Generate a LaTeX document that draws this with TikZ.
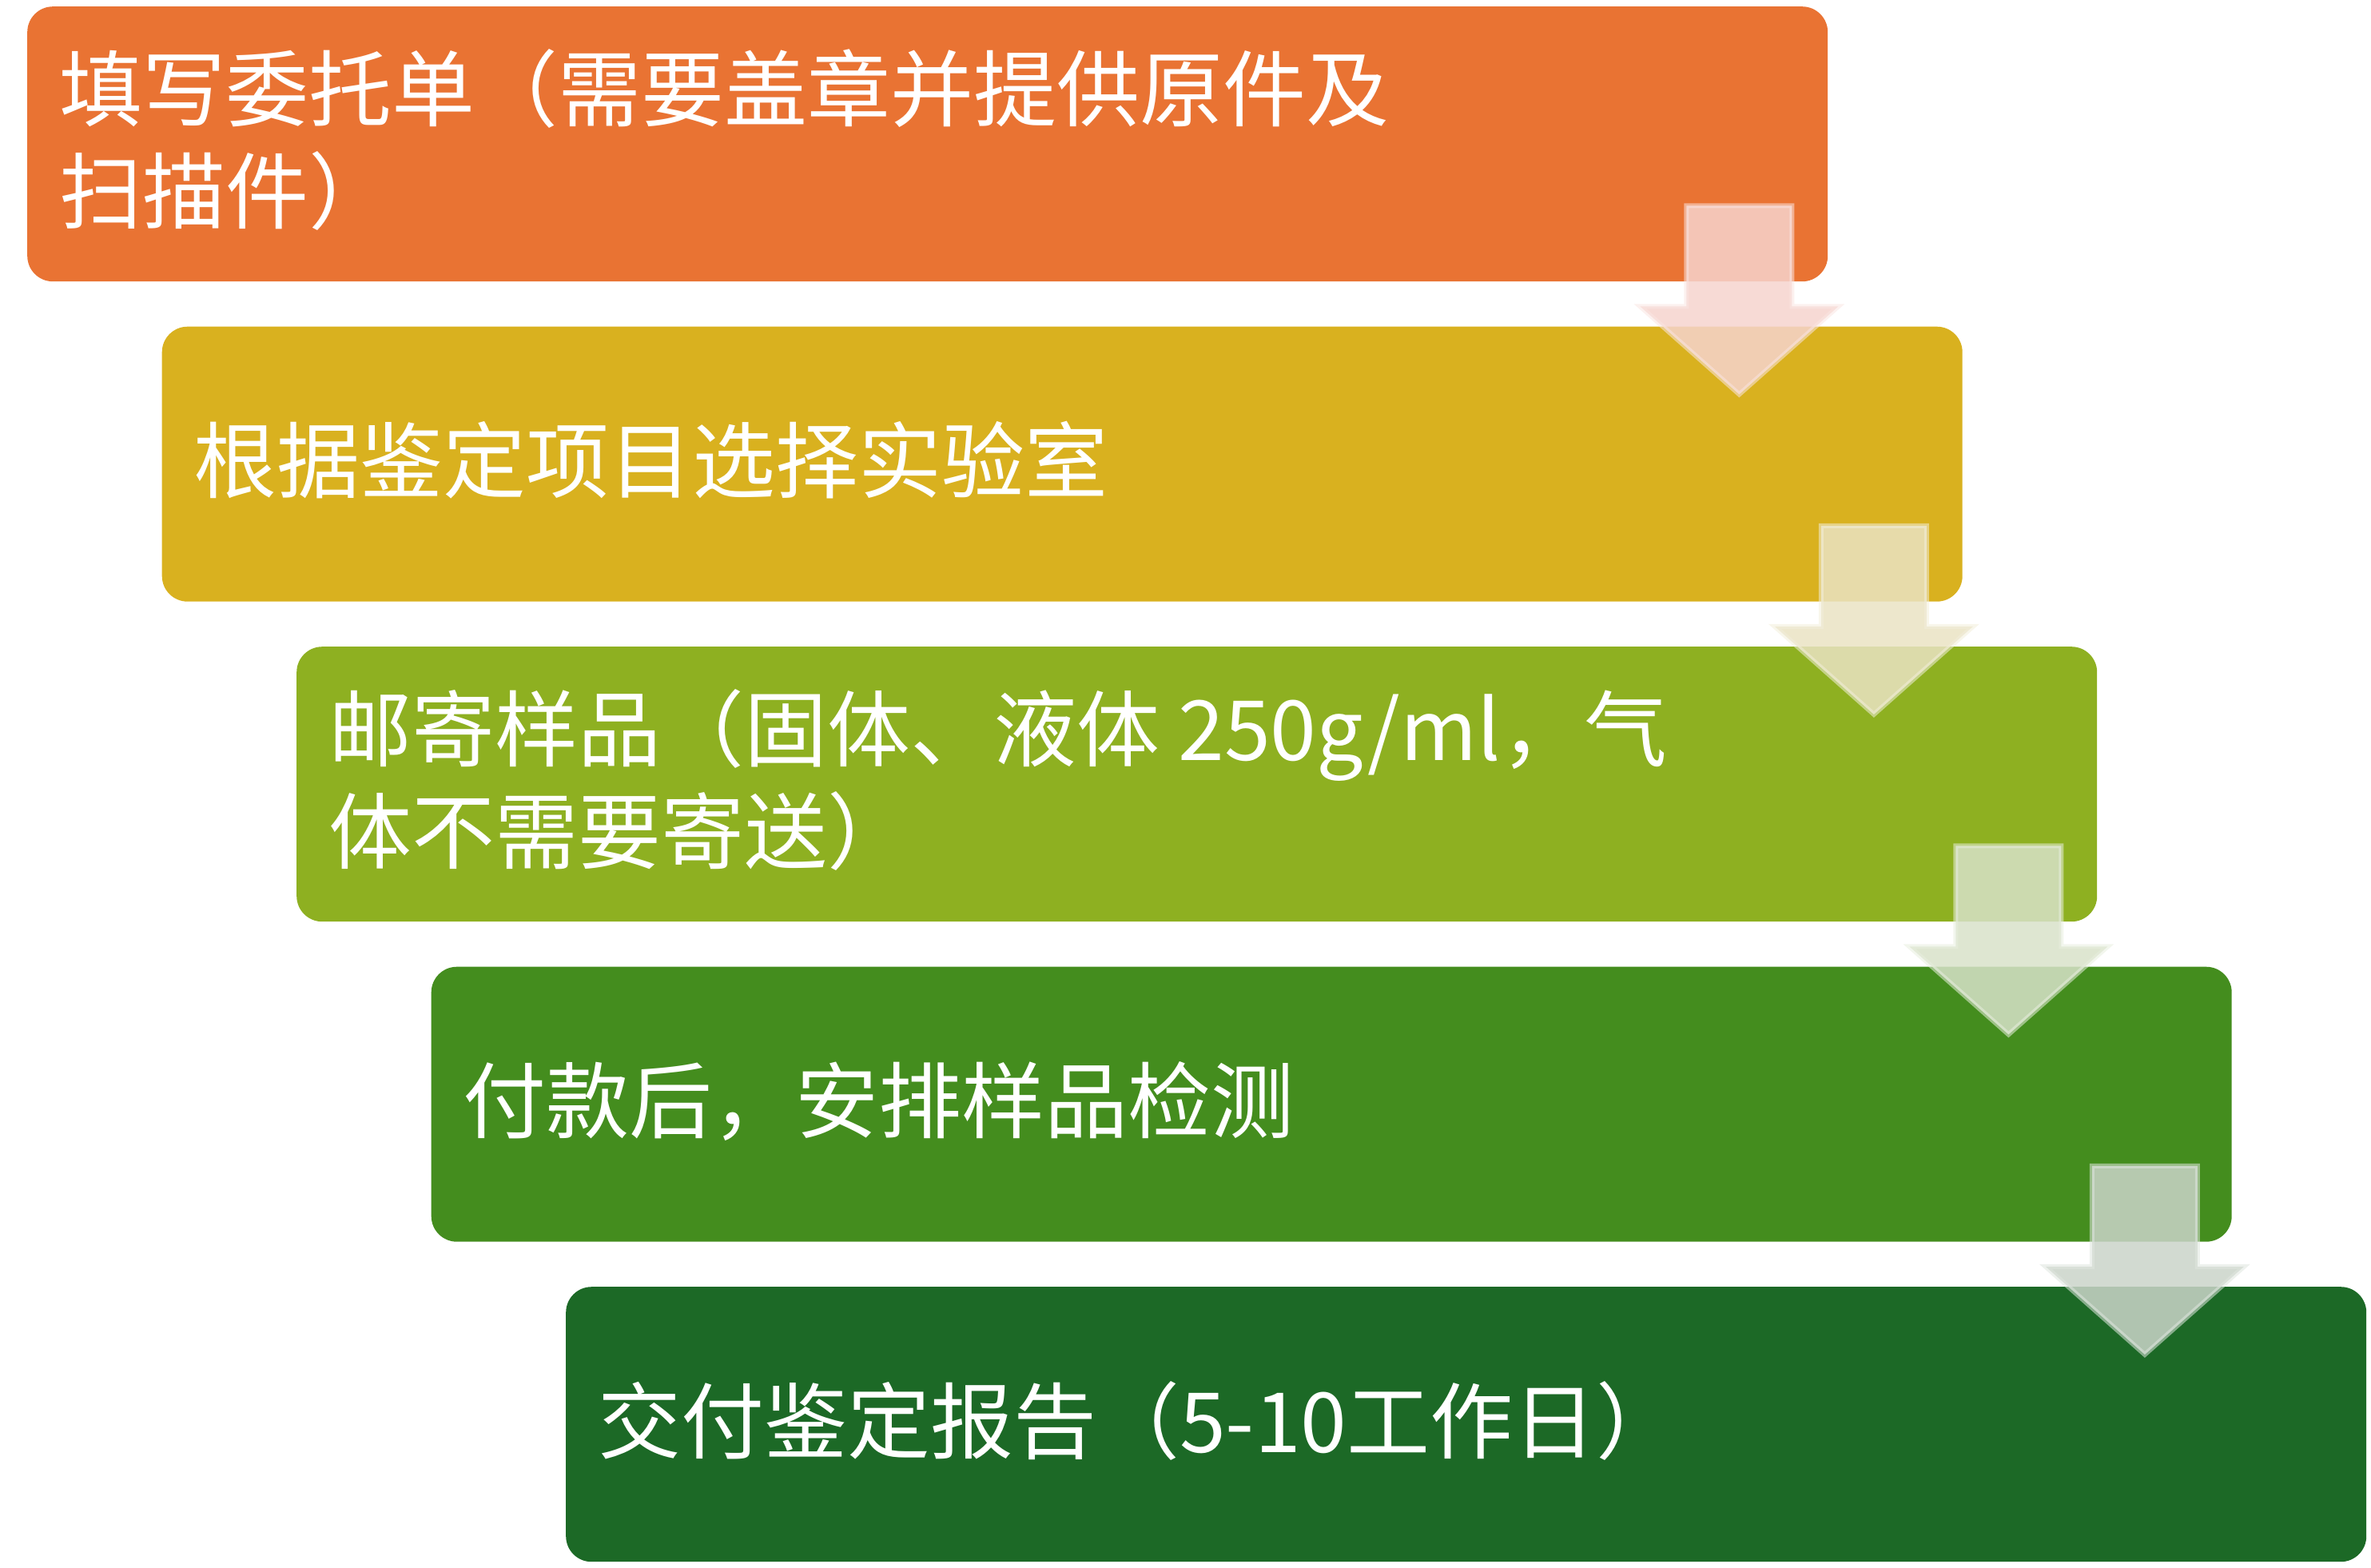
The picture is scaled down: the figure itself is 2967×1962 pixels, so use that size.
\documentclass[tikz,border=0pt]{standalone}
\usepackage{fontspec}
\usetikzlibrary{calc}
\newfontfamily\cjk{Noto Sans CJK SC}
\definecolor{cOne}{HTML}{E97333}
\definecolor{cTwo}{HTML}{D9B11F}
\definecolor{cThree}{HTML}{8EB021}
\definecolor{cFour}{HTML}{448D1E}
\definecolor{cFive}{HTML}{1C6926}
\definecolor{aOne}{HTML}{F6D4CE}
\definecolor{aTwo}{HTML}{EAE3C3}
\definecolor{aThree}{HTML}{D8E2C9}
\definecolor{aFour}{HTML}{CAD4C9}
\tikzset{
  stepbox/.style={rounded corners=32pt, minimum width=2253pt, minimum height=344pt,
    anchor=north west, inner sep=0pt, draw=none},
  label/.style={anchor=base west, inner sep=0pt, text=white,
    font=\cjk\fontsize{104pt}{128pt}\selectfont},
  blockarrow/.style={line width=6pt, fill opacity=0.85, draw opacity=0.55, line join=miter}
}
\newcommand\downarrowat[2]{%
  \draw[blockarrow, fill=#2, draw=#2!60!white]
    ([shift={(-66,-95)}]#1) -- ([shift={(66,-95)}]#1) -- ([shift={(66,31)}]#1)
    -- ([shift={(124,31)}]#1) -- ([shift={(0,141)}]#1) -- ([shift={(-124,31)}]#1)
    -- ([shift={(-66,31)}]#1) -- cycle;}
\begin{document}
\begin{tikzpicture}[x=1pt, y=-1pt]
\useasboundingbox (0,0) rectangle (2967,1962);
\node[stepbox, fill=cOne]   (b1) at (34,8) {};
\node[stepbox, fill=cTwo]   (b2) at (202.5,408.5) {};
\node[stepbox, fill=cThree] (b3) at (371,809) {};
\node[stepbox, fill=cFour]  (b4) at (539.5,1209.5) {};
\node[stepbox, fill=cFive]  (b5) at (708,1610) {};

\node[label] (t1) at ($(b1.north west)+(40,142)$) {填写委托单（需要盖章并提供原件及};
\node[label] (t1b) at ($(b1.north west)+(40,270)$) {扫描件）};
\node[label] (t2) at ($(b2.north west)+(40,207)$) {根据鉴定项目选择实验室};
\node[label] (t3) at ($(b3.north west)+(40,142)$) {邮寄样品（固体、液体 250g/ml，气};
\node[label] (t3b) at ($(b3.north west)+(40,270)$) {体不需要寄送）};
\node[label] (t4) at ($(b4.north west)+(40,207)$) {付款后，安排样品检测};
\node[label] (t5) at ($(b5.north west)+(40,207)$) {交付鉴定报告（5-10工作日）};

\coordinate (a1) at ($(b1.south east)+(-111,0)$);
\coordinate (a2) at ($(b2.south east)+(-111,0)$);
\coordinate (a3) at ($(b3.south east)+(-111,0)$);
\coordinate (a4) at ($(b4.south east)+(-109,0)$);
\downarrowat{a1}{aOne}
\downarrowat{a2}{aTwo}
\downarrowat{a3}{aThree}
\downarrowat{a4}{aFour}
\end{tikzpicture}
\end{document}
